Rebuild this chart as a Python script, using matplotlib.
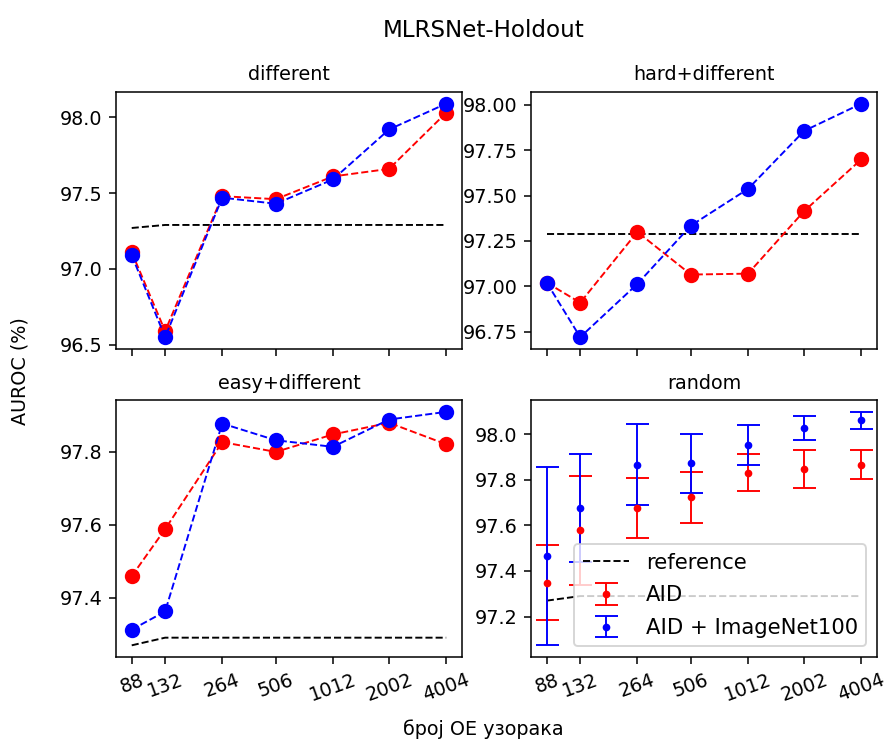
"""
Plot: MLRSNet-Holdout AUROC vs number of OE samples (4 panels)
"""

import matplotlib.pyplot as plt
from matplotlib.ticker import NullLocator

DPI = 138
FIGSIZE = (886 / DPI, 743 / DPI)

n_samples = [88, 132, 264, 506, 1012, 2002, 4004]
tick_labels = ["88", "132", "264", "506", "1012", "2002", "4004"]

# different
diff_aid = [97.11, 96.59, 97.48, 97.46, 97.61, 97.66, 98.03]
diff_aid_in = [97.09, 96.55, 97.47, 97.43, 97.59, 97.92, 98.09]
diff_ref = [97.27, 97.29, 97.29, 97.29, 97.29, 97.29, 97.29]

# hard+different
hard_aid = [97.02, 96.91, 97.30, 97.065, 97.07, 97.415, 97.70]
hard_aid_in = [97.02, 96.72, 97.013, 97.335, 97.537, 97.857, 98.007]
hard_ref = [97.29, 97.29, 97.29, 97.29, 97.29, 97.29, 97.29]

# easy+different
easy_aid = [97.459, 97.588, 97.827, 97.80, 97.848, 97.88, 97.821]
easy_aid_in = [97.312, 97.362, 97.878, 97.832, 97.814, 97.889, 97.91]
easy_ref = [97.269, 97.29, 97.29, 97.29, 97.29, 97.29, 97.29]

# random (mean +- std)
rand_aid = [97.349, 97.578, 97.677, 97.723, 97.832, 97.847, 97.866]
rand_aid_err = [0.166, 0.24, 0.133, 0.112, 0.082, 0.082, 0.063]
rand_aid_in = [97.464, 97.677, 97.866, 97.872, 97.953, 98.026, 98.061]
rand_aid_in_err = [0.39, 0.236, 0.178, 0.131, 0.087, 0.053, 0.037]
rand_ref = [97.27, 97.29, 97.29, 97.29, 97.29, 97.29, 97.29]


def line_panel(ax, title, aid, aid_in, ref):
    ax.plot(n_samples, ref, "--", color="black", lw=1)
    ax.plot(n_samples, aid, "o--", color="red", lw=1, ms=7)
    ax.plot(n_samples, aid_in, "o--", color="blue", lw=1, ms=7)
    ax.set_title(title, fontsize=10)


fig, axes = plt.subplots(2, 2, figsize=FIGSIZE, sharex=True)
fig.subplots_adjust(left=116 / 886, right=877 / 886, top=1 - 92 / 743,
                    bottom=1 - 657 / 743, wspace=0.2, hspace=0.2)

line_panel(axes[0, 0], "different", diff_aid, diff_aid_in, diff_ref)
line_panel(axes[0, 1], "hard+different", hard_aid, hard_aid_in, hard_ref)
line_panel(axes[1, 0], "easy+different", easy_aid, easy_aid_in, easy_ref)

ax = axes[1, 1]
ax.plot(n_samples, rand_ref, "--", color="black", lw=1, label="reference")
ax.errorbar(n_samples, rand_aid, yerr=rand_aid_err, fmt=".", color="red",
            capsize=6, elinewidth=1, capthick=1, label="AID")
ax.errorbar(n_samples, rand_aid_in, yerr=rand_aid_in_err, fmt=".", color="blue",
            capsize=6, elinewidth=1, capthick=1, label="AID + ImageNet100")
ax.set_title("random", fontsize=10)
ax.legend(loc="lower right", fontsize=11, handlelength=2.2, labelspacing=0.6)

for a in axes.flat:
    a.set_xscale("log")
    a.xaxis.set_minor_locator(NullLocator())
for a in axes[1]:
    a.set_xticks(n_samples)
    a.set_xticklabels(tick_labels, rotation=20)

fig.suptitle("MLRSNet-Holdout", x=0.546, y=0.975, fontsize=12)
fig.supxlabel("број ОЕ узорака", x=0.546, y=0.005, fontsize=10)
fig.supylabel("AUROC (%)", x=0.012, fontsize=10)

plt.savefig("out.png", dpi=DPI)
plt.close()
print("Saved: out.png")
